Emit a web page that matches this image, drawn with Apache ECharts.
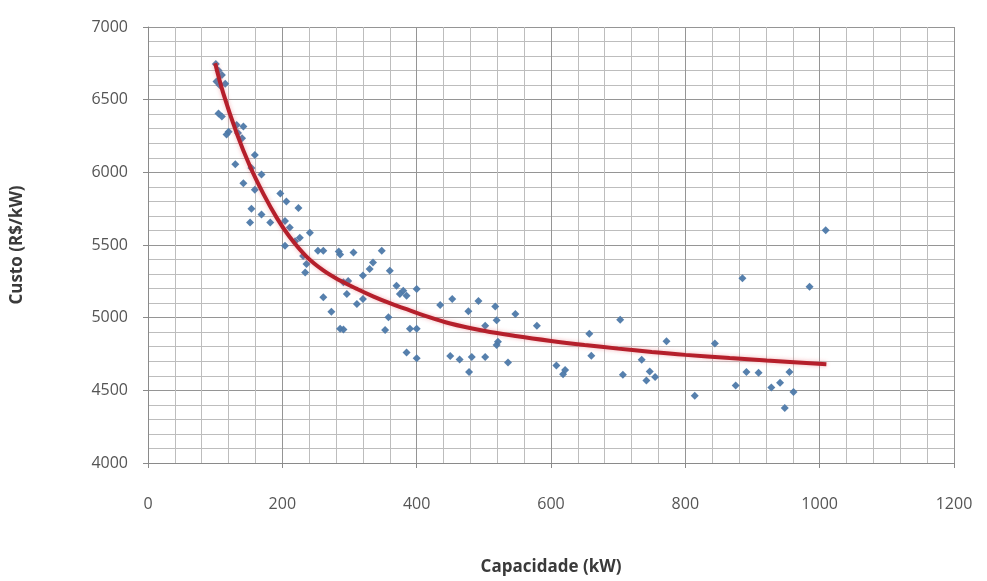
<!DOCTYPE html>
<html>
<head>
<meta charset="utf-8">
<script src="https://cdn.jsdelivr.net/npm/echarts@6/dist/echarts.min.js"></script>
<style>
  html, body { margin: 0; padding: 0; background: #ffffff; }
  #chart { width: 987px; height: 581px; }
</style>
</head>
<body>
<div id="chart"></div>
<script>
// Plant capacity (kW) and unit cost (R$/kW) of each surveyed installation
const capacidade = [
  101, 105, 110, 102, 115, 107, 105, 110, 132, 142, 120, 134, 117, 140, 159, 130, 154, 169, 142, 159, 197,
  206, 224, 154, 169, 152, 182, 204, 211, 241, 226, 204, 219, 231, 236, 234, 253,
  261, 284, 286, 306, 348, 335, 330, 320, 360, 298, 291, 370, 380, 385, 375, 400, 261, 296, 311, 320, 273, 358, 353, 286, 291, 390, 400, 385, 400,
  435, 453, 477, 492, 517, 519, 547, 502, 579, 521, 519, 450, 464, 482, 502, 536, 478, 608,
  703, 657, 772, 844, 660, 735, 621, 618, 707, 747, 755, 742, 814,
  891, 909, 955, 875, 928, 941, 961, 948, 885, 985, 1009
];
const custo = [
  6745, 6700, 6670, 6625, 6610, 6600, 6405, 6385, 6325, 6315, 6280, 6270, 6260, 6235, 6120, 6055, 6030, 5985, 5925, 5880, 5855,
  5800, 5755, 5750, 5710, 5655, 5655, 5665, 5620, 5585, 5550, 5495, 5525, 5425, 5370, 5310, 5460,
  5460, 5455, 5435, 5448, 5460, 5380, 5335, 5290, 5322, 5253, 5243, 5219, 5185, 5151, 5162, 5197, 5140, 5162, 5094, 5128, 5041, 5003, 4915, 4923, 4918, 4923, 4923, 4760, 4720,
  5087, 5128, 5044, 5114, 5077, 4982, 5025, 4945, 4945, 4835, 4812, 4736, 4712, 4729, 4729, 4692, 4626, 4671,
  4986, 4890, 4838, 4822, 4738, 4710, 4640, 4610, 4608, 4630, 4592, 4568, 4462,
  4626, 4621, 4626, 4534, 4519, 4553, 4489, 4379, 5272, 5212, 5601
];

// Fitted cost curve
const tendenciaX = [100, 112, 132, 152, 172, 192, 211, 236, 261, 286, 311, 335, 360, 385, 405, 450, 500, 550, 600, 650, 700, 750, 800, 866, 921, 1010];
const tendenciaY = [6750, 6545, 6270, 6040, 5850, 5685, 5555, 5420, 5325, 5255, 5198, 5147, 5100, 5058, 5025, 4960, 4910, 4872, 4840, 4812, 4787, 4764, 4744, 4722, 4705, 4680];

const xTicks = [0, 200, 400, 600, 800, 1000, 1200];
const yTicks = [4000, 4500, 5000, 5500, 6000, 6500, 7000];

const pontos = capacidade.map((c, i) => [c, custo[i]]);
const curva = tendenciaX.map((c, i) => [c, tendenciaY[i]]);

const font = '"Open Sans", "Liberation Sans", sans-serif';
const plain = v => String(v);

const chart = echarts.init(document.getElementById('chart'), null, { renderer: 'canvas' });
chart.setOption({
  animation: false,
  backgroundColor: '#ffffff',
  grid: { left: 148, right: 33, top: 27, bottom: 116, containLabel: false },
  xAxis: {
    type: 'value',
    min: xTicks[0],
    max: xTicks[xTicks.length - 1],
    interval: 200,
    name: 'Capacidade (kW)',
    nameLocation: 'middle',
    nameGap: 96,
    nameTextStyle: { fontFamily: font, fontSize: 17, fontWeight: 'bold', color: '#3a3a3a' },
    axisLine: { show: true, lineStyle: { color: '#8a8a8a', width: 1 } },
    axisTick: { show: true, length: 5, lineStyle: { color: '#8a8a8a' } },
    minorTick: { show: true, splitNumber: 5, length: 0 },
    axisLabel: { fontFamily: font, fontSize: 16, color: '#555555', margin: 33, formatter: plain },
    splitLine: { show: true, lineStyle: { color: '#959595', width: 1 } },
    minorSplitLine: { show: true, lineStyle: { color: '#bdbdbd', width: 1 } }
  },
  yAxis: {
    type: 'value',
    min: yTicks[0],
    max: yTicks[yTicks.length - 1],
    interval: 500,
    name: 'Custo (R$/kW)',
    nameLocation: 'middle',
    nameGap: 122,
    nameRotate: 90,
    nameTextStyle: { fontFamily: font, fontSize: 17, fontWeight: 'bold', color: '#3a3a3a' },
    axisLine: { show: true, lineStyle: { color: '#8a8a8a', width: 1 } },
    axisTick: { show: true, length: 5, lineStyle: { color: '#8a8a8a' } },
    minorTick: { show: true, splitNumber: 5, length: 0 },
    axisLabel: { fontFamily: font, fontSize: 16, color: '#555555', margin: 20, formatter: plain },
    splitLine: { show: true, lineStyle: { color: '#959595', width: 1 } },
    minorSplitLine: { show: true, lineStyle: { color: '#bdbdbd', width: 1 } }
  },
  series: [
    {
      name: 'Custo',
      type: 'scatter',
      data: pontos,
      symbol: 'diamond',
      symbolSize: 8,
      itemStyle: { color: '#4d79a9', opacity: 0.95 },
      z: 2
    },
    {
      name: 'Tendência',
      type: 'line',
      data: curva,
      smooth: 0.4,
      showSymbol: false,
      lineStyle: { color: '#b51f2b', width: 4, shadowColor: 'rgba(230,90,100,0.45)', shadowBlur: 4 },
      z: 3
    }
  ]
});
</script>
</body>
</html>
